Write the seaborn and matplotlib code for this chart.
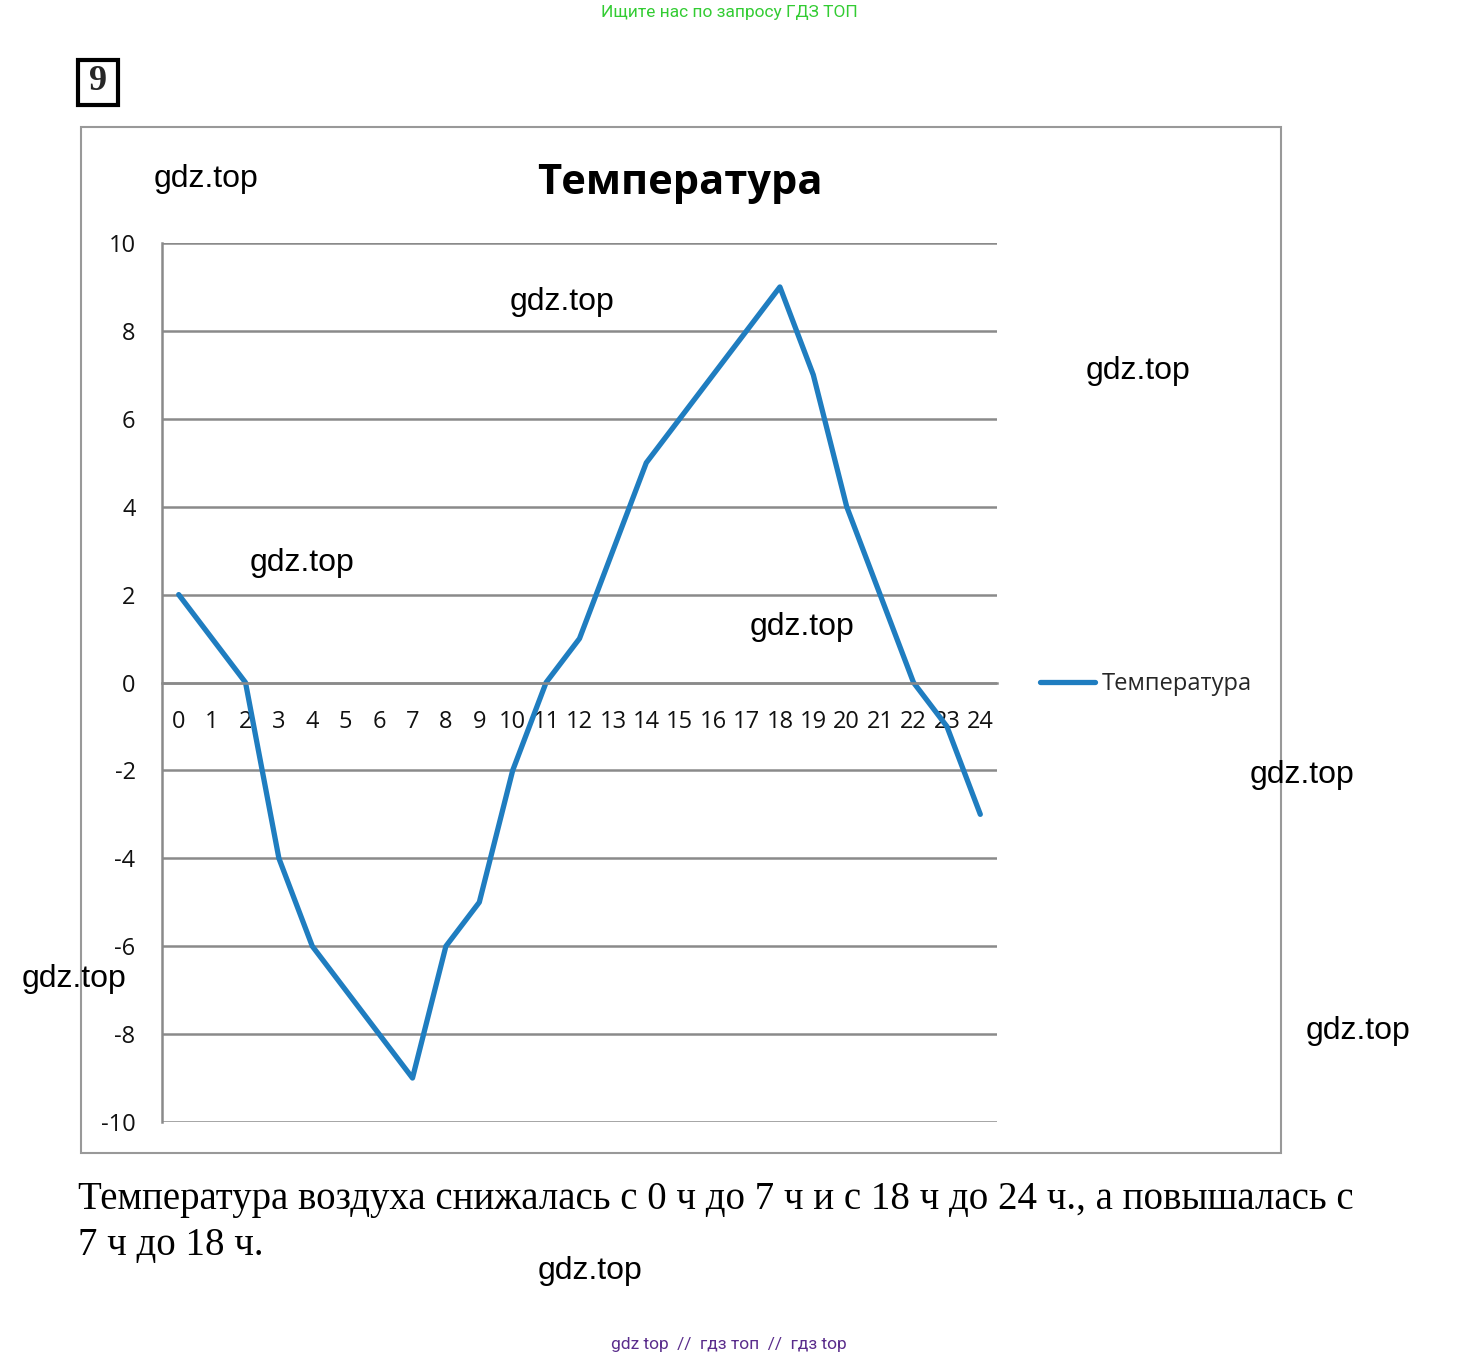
import matplotlib
matplotlib.use("Agg")
import matplotlib.pyplot as plt
import seaborn as sns
import pandas as pd
from matplotlib.patches import Rectangle

hours = list(range(25))
temps = [2, 1, 0, -4, -6, -7, -8, -9, -6, -5, -2, 0, 1, 3, 5, 6, 7, 8, 9, 7, 4, 2, 0, -1, -3]
y_ticks = [-10, -8, -6, -4, -2, 0, 2, 4, 6, 8, 10]
title = "Температура"
series_name = "Температура"
caption = "Температура воздуха снижалась с 0 ч до 7 ч и с 18 ч до 24 ч., а повышалась с\n7 ч до 18 ч."
top_note = "Ищите нас по запросу ГДЗ ТОП"
bottom_note = "gdz top  //  гдз топ  //  гдз top"
watermark = "gdz.top"
wm_pos = [(206, 179), (562, 302), (1138, 371), (302, 563), (802, 627),
          (1302, 775), (74, 979), (1358, 1031), (590, 1271)]

sns.set_theme(style="white")
plt.rcParams['font.family'] = ['Open Sans', 'DejaVu Sans']

W, H = 1460, 1360
fig = plt.figure(figsize=(W / 100, H / 100), dpi=100)

def fx(x):
    return x / W

def fy(y):
    return 1 - y / H

df = pd.DataFrame({"hour": hours, "temp": temps})

ax = fig.add_axes([fx(162), fy(1122), (997 - 162) / W, (1122 - 243) / H])
sns.lineplot(data=df, x="hour", y="temp", ax=ax, color="#1f7dc0", linewidth=3.8,
             label=series_name, legend=False)

grid_c = "#8a8a8a"
ax.set_xlim(-0.5, 24.5)
ax.set_ylim(-10, 10)
ax.set_yticks(y_ticks)
ax.set_yticklabels([str(v) for v in y_ticks], fontsize=17, color="#111111")
for v in y_ticks:
    ax.axhline(v, color=grid_c, linewidth=1.8, zorder=0)

ax.spines['bottom'].set_position(('data', 0))
ax.spines['bottom'].set_color(grid_c)
ax.spines['bottom'].set_linewidth(1.8)
ax.spines['left'].set_color(grid_c)
ax.spines['left'].set_linewidth(1.8)
ax.spines['top'].set_visible(False)
ax.spines['right'].set_visible(False)

ax.set_xticks([h - 0.5 for h in hours] + [24.5])
ax.set_xticklabels([])
ax.set_xticks(hours, minor=True)
ax.set_xticklabels([str(h) for h in hours], minor=True, fontsize=17, color="#111111")
ax.tick_params(axis='x', which='major', direction='out', length=9, width=1.8, color=grid_c)
ax.tick_params(axis='x', which='minor', length=0, pad=20)
ax.tick_params(axis='y', direction='out', length=12, width=1.8, color=grid_c, pad=7)
ax.set_xlabel("")
ax.set_ylabel("")
ax.patch.set_alpha(0)

leg = ax.legend(loc='center left', bbox_to_anchor=(fx(1019), fy(684)),
                bbox_transform=fig.transFigure, frameon=False, fontsize=17,
                handlelength=2.3, handletextpad=0.3)

fig.patches.append(Rectangle((fx(81), fy(1153)), (1281 - 81) / W, (1153 - 127) / H,
                             transform=fig.transFigure, fill=False,
                             edgecolor="#999999", linewidth=1.5))

fig.text(fx(680), fy(183), title, ha='center', va='center', fontsize=30,
         fontweight='bold', color="#000000")

fig.text(fx(98), fy(82), "9", ha='center', va='center', fontsize=26,
         fontweight='bold', family=['Liberation Serif'])
fig.patches.append(Rectangle((fx(78), fy(105)), 40 / W, 45 / H,
                             transform=fig.transFigure, fill=False,
                             edgecolor="#000000", linewidth=3))

fig.text(fx(729), fy(12), top_note, ha='center', va='center', fontsize=12.5,
         color="#33cc33", family=['Roboto', 'DejaVu Sans'])
fig.text(fx(729), fy(1345), bottom_note, ha='center', va='center', fontsize=12.5,
         color="#5a2d8c", family=['Roboto', 'DejaVu Sans'])

fig.text(fx(78), fy(1181), caption, ha='left', va='top', fontsize=28,
         family=['Liberation Serif'], linespacing=1.31, color="#000000")

for (x, y) in wm_pos:
    fig.text(fx(x), fy(y), watermark, ha='center', va='center', fontsize=23,
             family=['Liberation Sans'], color="#000000")

fig.savefig("out.png", dpi=100, facecolor="white")
